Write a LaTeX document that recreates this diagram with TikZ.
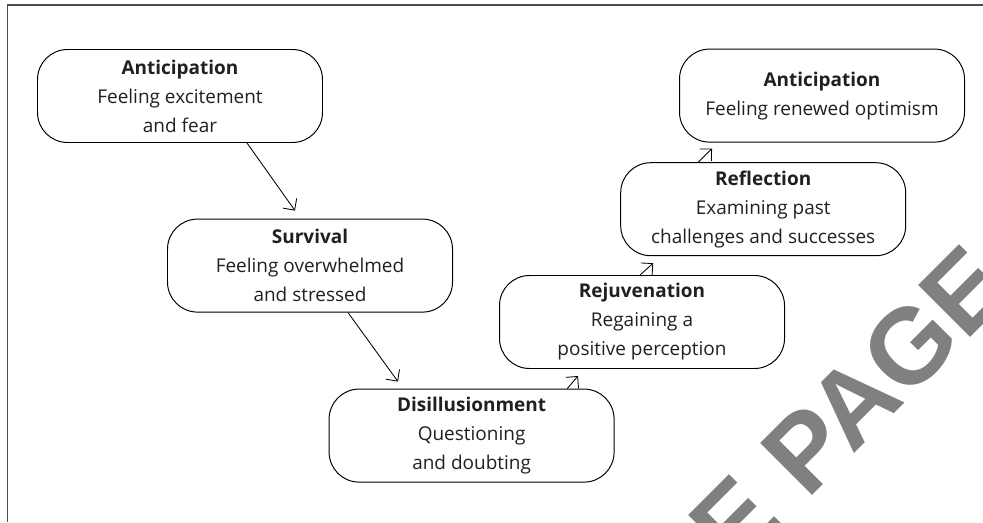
\documentclass[tikz,border=0pt]{standalone}
\usepackage{fontspec}
\setmainfont{Open Sans}
\newfontfamily\wmfont{Liberation Sans}
\usepackage{tikz}
\usetikzlibrary{arrows.meta,positioning}
\definecolor{frameGrey}{HTML}{4D4D4D}
\definecolor{inkDark}{HTML}{231F20}
\definecolor{markGrey}{HTML}{808080}
\tikzset{
  stage/.style={draw=black, line width=0.7pt, rounded corners=0.75cm,
    minimum width=7.125cm, minimum height=2.325cm, align=center,
    text=inkDark, font=\fontsize{13.5}{20.6}\selectfont},
  flow/.style={-{Straight Barb[length=2.1mm,width=4.2mm]}, line width=0.6pt},
}

\begin{document}
\begin{tikzpicture}
  \useasboundingbox (0,0) rectangle (24.575,-13.05);
  % watermark
  \begin{scope}
    \clip (0,0) rectangle (24.575,-13.05);
    \node[rotate=45, anchor=base east, inner sep=0pt, text=markGrey,
      font=\wmfont\bfseries\fontsize{76}{76}\selectfont] (mark) at (25.4,-7.3) {SAMPLE PAGE};
  \end{scope}
  % frame
  \draw[frameGrey, line width=0.8pt] (0.1875,-13.05) -- (0.1875,-0.125) -- (24.575,-0.125);
  % stages
  \node[stage] (antA) at (4.5,-2.4) {\textbf{Anticipation}\\Feeling excitement\\and fear};
  \node[stage] (surv) at (7.75,-6.64) {\textbf{Survival}\\Feeling overwhelmed\\and stressed};
  \node[stage] (disi) at (11.79,-10.89) {\textbf{Disillusionment}\\Questioning\\and doubting};
  \node[stage] (reju) at (16.05,-8.05) {\textbf{Rejuvenation}\\Regaining a\\positive perception};
  \node[stage] (refl) at (19.08,-5.23) {\textbf{Reflection}\\Examining past\\challenges and successes};
  \node[stage] (antB) at (20.55,-2.39) {\textbf{Anticipation}\\Feeling renewed optimism};
  % arrows
  \draw[flow] ([xshift=1.675cm]antA.south) -- ([xshift=-0.375cm,yshift=0.2cm]surv.north);
  \draw[flow] ([xshift=0.95cm]surv.south) -- ([xshift=-1.84cm,yshift=0.175cm]disi.north);
  \draw[flow] ([xshift=2.39cm]disi.north) -- ([xshift=-1.6cm,yshift=-0.175cm]reju.south);
  \draw[flow] ([xshift=-0.05cm]reju.north) -- ([xshift=-2.75cm,yshift=-0.175cm]refl.south);
  \draw[flow] ([xshift=-1.625cm]refl.north) -- ([xshift=-2.75cm,yshift=-0.15cm]antB.south);
\end{tikzpicture}
\end{document}
